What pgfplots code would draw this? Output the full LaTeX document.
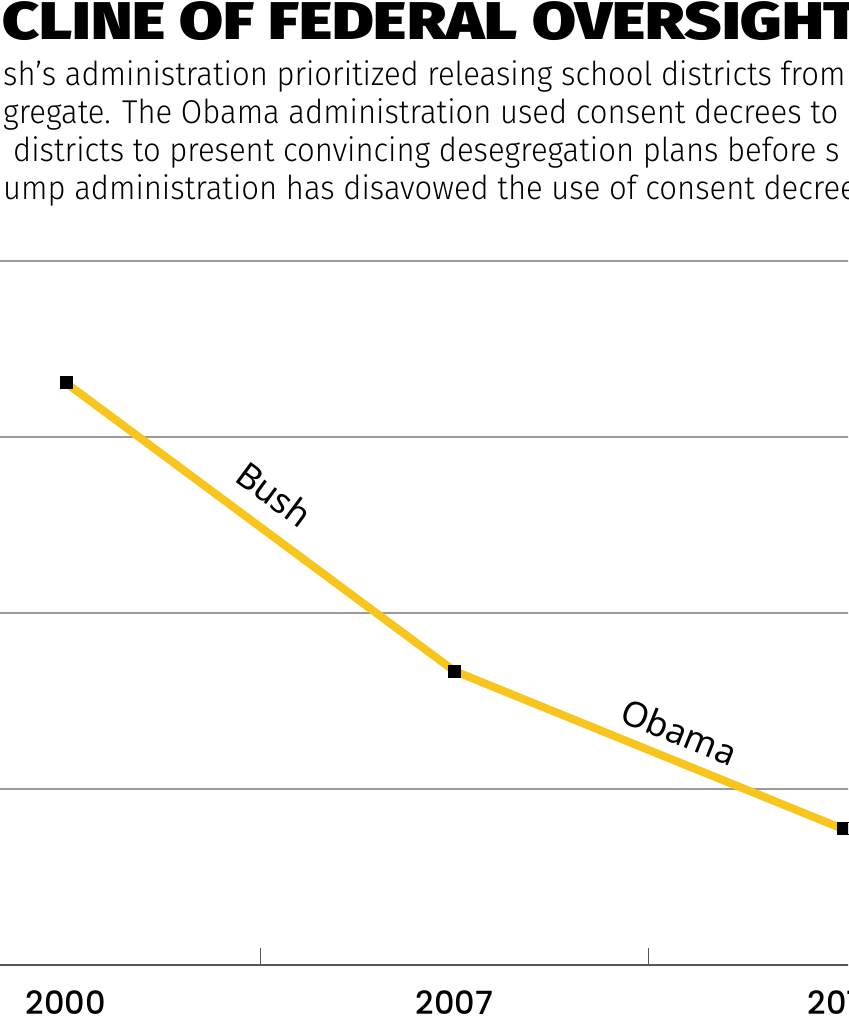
\documentclass[border=0pt]{standalone}
\usepackage{fontspec}
\usepackage{pgfplots}
\pgfplotsset{compat=1.18}
\setmainfont{Fira Sans}
\newfontfamily\titlefont{Fira Sans}[UprightFont=* Black, FakeStretch=1.2]
\newfontfamily\bodyfont{Fira Sans}[UprightFont=* Light, FakeStretch=0.94]
\newfontfamily\tickfont{Poppins}[UprightFont=* Medium]
\newfontfamily\labelfont{Noto Sans}
\definecolor{gold}{HTML}{F8C51C}
\definecolor{gridgray}{HTML}{9A9A9A}
\definecolor{axisgray}{HTML}{555555}

\begin{document}
\begin{tikzpicture}
\useasboundingbox (0,0) rectangle (848pt,1024pt);
\clip (0,0) rectangle (848pt,1024pt);

% heading, cut at both sides like the source
\node[anchor=base west, inner sep=0] at (2pt,984pt)
  {\titlefont\fontsize{53}{53}\selectfont CLINE OF FEDERAL OVERSIGHT};
\begin{scope}[every node/.style={anchor=base west, inner sep=0,
    font=\bodyfont\fontsize{33}{33}\selectfont}]
\node at (3pt,938pt) {sh’s administration prioritized releasing school districts from};
\node at (3pt,900pt) {gregate. The Obama administration used consent decrees to};
\node at (13pt,862pt) {districts to present convincing desegregation plans before s};
\node at (3pt,824pt) {ump administration has disavowed the use of consent decree};
\end{scope}

\begin{axis}[
    at={(-45pt,59pt)}, anchor=south west,
    scale only axis, width=999pt, height=704pt,
    xmin=1998, xmax=2016, ymin=0, ymax=400,
    axis lines*=left,
    x axis line style={-, draw=axisgray, line width=2.5pt},
    y axis line style={draw=none},
    ytick={100,200,300,400}, yticklabels={},
    ymajorgrids, major grid style={draw=gridgray, line width=1.5pt},
    y tick style={draw=none},
    xtick={2003.5,2010.5}, xticklabels={},
    tick align=inside, xtick pos=bottom,
    x tick style={draw=axisgray, line width=1.2pt},
    major tick length=17pt,
    extra x ticks={2000,2007,2014},
    extra x tick style={major tick length=0pt, grid=none},
    extra x tick labels={2000,2007,2014},
    xticklabel style={font=\tickfont\fontsize{32}{32}\selectfont, yshift=-22pt},
]
\addplot[gold, line width=8pt, mark=square*, mark size=6pt,
    mark options={draw=black, fill=black, line width=0pt}]
  coordinates {(2000,330.7) (2007,167.0) (2014,77.3)};
\node[font=\labelfont\fontsize{35}{35}\selectfont, rotate=-36.5]
  at (axis cs:2003.75,267.5) {Bush};
\node[font=\labelfont\fontsize{35}{35}\selectfont, rotate=-22]
  at (axis cs:2011.05,132.5) {Obama};
\end{axis}
\end{tikzpicture}
\end{document}
